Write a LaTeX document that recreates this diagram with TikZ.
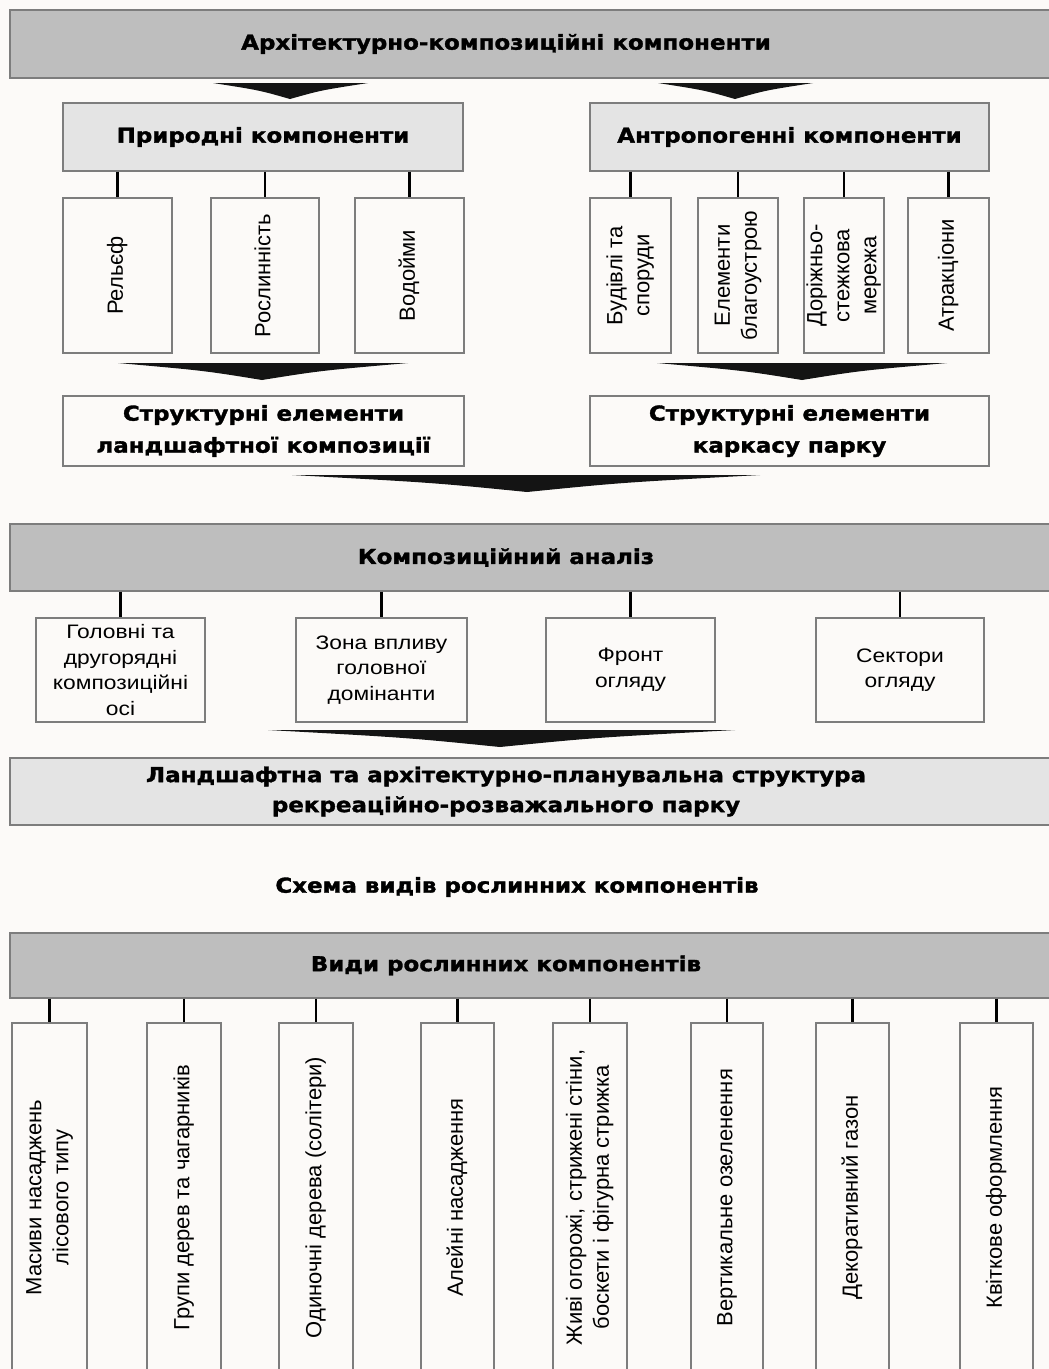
\documentclass[tikz,border=0pt]{standalone}
\usepackage{fontspec}
\usepackage{graphicx}
\setmainfont{Liberation Sans}
\newfontfamily\headfont[FakeStretch=1.12,FakeBold=1.6]{DejaVu Sans}
\newfontfamily\widefont[FakeStretch=1.17]{Liberation Sans}
\usepackage{tikz,pgffor}
\usetikzlibrary{calc}

\definecolor{paper}{RGB}{252,250,248}
\definecolor{bargray}{RGB}{190,190,190}
\definecolor{panelgray}{RGB}{228,228,228}
\definecolor{edgegray}{RGB}{125,125,125}
\definecolor{wedgeblack}{RGB}{20,20,20}

\newcommand{\uprot}[1]{\makebox[0pt]{\rotatebox{90}{\begin{tabular}{@{}c@{}}#1\end{tabular}}}}

\begin{document}
\begin{tikzpicture}[x=1pt, y=-1pt,
    bar/.style={draw=edgegray, fill=bargray, line width=1.2pt, inner sep=0pt,
      minimum width=1042, minimum height=68},
    panel/.style={draw=edgegray, fill=panelgray, line width=1.2pt, inner sep=0pt,
      minimum height=68},
    plainbox/.style={draw=edgegray, fill=paper, line width=1.2pt, inner sep=0pt},
    head/.style={font=\headfont\bfseries\fontsize{20.5}{32}\selectfont, align=center},
    vert/.style={font=\fontsize{22}{27}\selectfont},
    horiz/.style={font=\widefont\fontsize{19.5}{25.5}\selectfont, align=center},
    link/.style={line width=2.2pt, black},
    wedge/.style={fill=wedgeblack}]

    \fill[paper] (0,0) rectangle (1049,1369);
    \useasboundingbox (0,0) rectangle (1049,1369);

    % top level
    \node[bar, label={[head, xshift=-25pt]center:Архітектурно-композиційні компоненти}] (arch) at (531,44) {};
    \node[panel, minimum width=400, head] (nat) at (263,137) {Природні компоненти};
    \node[panel, minimum width=399, head] (anth) at (789.5,137) {Антропогенні компоненти};

    \node[plainbox, minimum width=109, minimum height=155, vert] (relief) at (117.5,275.5) {\uprot{Рельєф}};
    \node[plainbox, minimum width=108, minimum height=155, vert] (veget) at (265,275.5) {\uprot{Рослинність}};
    \node[plainbox, minimum width=109, minimum height=155, vert] (water) at (409.5,275.5) {\uprot{Водойми}};
    \node[plainbox, minimum width=81, minimum height=155, vert] (build) at (630.5,275.5) {\uprot{Будівлі та\\споруди}};
    \node[plainbox, minimum width=80, minimum height=155, vert] (improve) at (738,275.5) {\uprot{Елементи\\благоустрою}};
    \node[plainbox, minimum width=80, minimum height=155, vert] (paths) at (844,275.5) {\uprot{Доріжньо-\\стежкова\\мережа}};
    \node[plainbox, minimum width=81, minimum height=155, vert] (attract) at (948.5,275.5) {\uprot{Атракціони}};

    \node[plainbox, minimum width=401, minimum height=70, head] (landel) at (263.5,431) {Структурні елементи\\ландшафтної композиції};
    \node[plainbox, minimum width=399, minimum height=70, head] (frameel) at (789.5,431) {Структурні елементи\\каркасу парку};

    % analysis
    \node[bar, minimum height=67, label={[head, xshift=-25pt]center:Композиційний аналіз}] (comp) at (531,557.5) {};
    \node[plainbox, minimum width=169, minimum height=104, horiz] (axes) at (120.5,670) {Головні та\\другорядні\\композиційні\\осі};
    \node[plainbox, minimum width=171, minimum height=104, horiz] (zone) at (381.5,670) {Зона впливу\\головної\\домінанти};
    \node[plainbox, minimum width=169, minimum height=104, horiz] (front) at (630.5,670) {Фронт\\огляду};
    \node[plainbox, minimum width=168, minimum height=104, horiz] (sectors) at (900,670) {Сектори\\огляду};

    \node[panel, minimum width=1042, minimum height=67,
      label={[head, xshift=-25pt, font=\headfont\bfseries\fontsize{20.5}{30}\selectfont]center:Ландшафтна та архітектурно-планувальна структура\\рекреаційно-розважального парку}] (plan) at (531,791.5) {};

    % plant components
    \node[head] (scheme) at (517,887) {Схема видів рослинних компонентів};
    \node[bar, minimum height=65, label={[head, xshift=-25pt]center:Види рослинних компонентів}] (kinds) at (531,965.5) {};

    \node[plainbox, minimum width=75, minimum height=349, vert] (mass) at (49.5,1197.5) {\uprot{Масиви насаджень\\лісового типу}};
    \node[plainbox, minimum width=74, minimum height=349, vert] (groups) at (184,1197.5) {\uprot{Групи дерев та чагарників}};
    \node[plainbox, minimum width=74, minimum height=349, vert] (single) at (316,1197.5) {\uprot{Одиночні дерева (солітери)}};
    \node[plainbox, minimum width=73, minimum height=349, vert] (alley) at (457.5,1197.5) {\uprot{Алейні насадження}};
    \node[plainbox, minimum width=74, minimum height=349, vert] (hedge) at (590,1197.5) {\uprot{Живі огорожі, стрижені стіни,\\боскети і фігурна стрижка}};
    \node[plainbox, minimum width=72, minimum height=349, vert] (climb) at (727,1197.5) {\uprot{Вертикальне озеленення}};
    \node[plainbox, minimum width=73, minimum height=349, vert] (lawn) at (852.5,1197.5) {\uprot{Декоративний газон}};
    \node[plainbox, minimum width=73, minimum height=349, vert] (flower) at (996.5,1197.5) {\uprot{Квіткове оформлення}};

    % connectors
    \foreach \kid in {relief, veget, water}
      \draw[link] (nat.south -| \kid.north) -- (\kid.north);
    \foreach \kid in {build, improve, paths, attract}
      \draw[link] (anth.south -| \kid.north) -- (\kid.north);
    \foreach \kid in {axes, zone, front, sectors}
      \draw[link] (comp.south -| \kid.north) -- (\kid.north);
    \foreach \kid in {mass, groups, single, alley, hedge, climb, lawn, flower}
      \draw[link] (kinds.south -| \kid.north) -- (\kid.north);

    % wedge arrows
    \foreach \xa/\xb/\ya/\xt/\yt in {213/368/83/290/99, 658/813/83/735/99,
        118/408/363/262/380, 657/947/363/802/380,
        292/760/475/527/492, 268/735/730/500/747}
      \fill[wedge] (\xa,\ya) -- (\xb,\ya)
        .. controls ({\xt+0.4*(\xb-\xt)},{\ya+0.45*(\yt-\ya)}) .. (\xt,\yt)
        .. controls ({\xt-0.4*(\xt-\xa)},{\ya+0.45*(\yt-\ya)}) .. (\xa,\ya) -- cycle;

\end{tikzpicture}
\end{document}
